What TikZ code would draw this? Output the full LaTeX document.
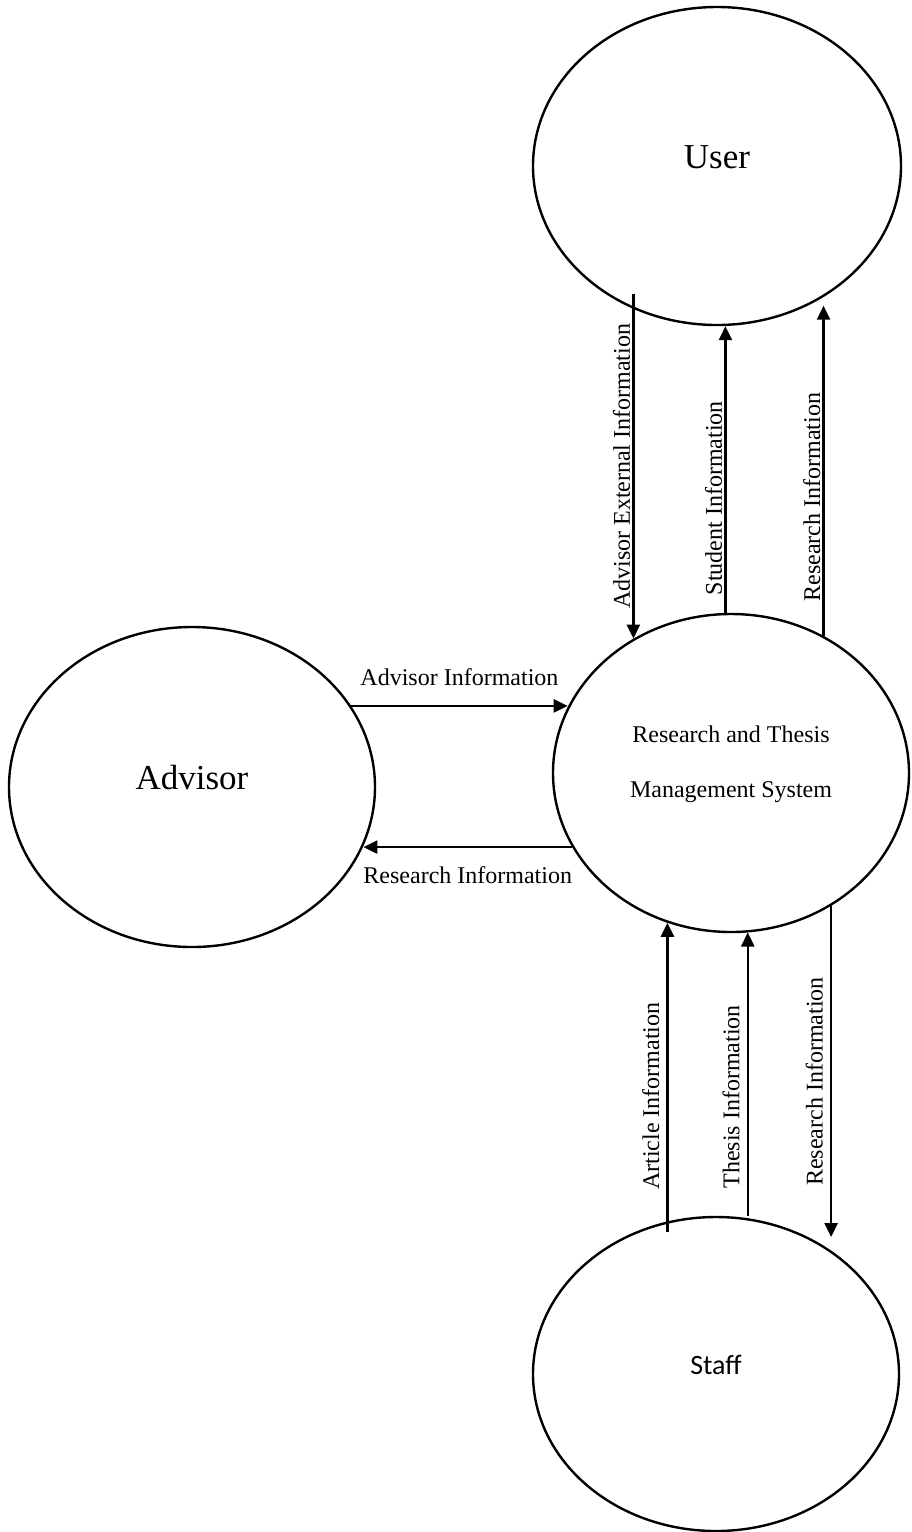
\documentclass[tikz,border=0pt]{standalone}
\usepackage{fontspec}
\setmainfont{Liberation Serif}
\newfontfamily\staffFont{Carlito}
\usetikzlibrary{arrows.meta,shapes.geometric,calc}

\begin{document}
\begin{tikzpicture}[
  x=0.5pt, y=-0.5pt,
  ent/.style={draw, ellipse, line width=1.2pt, inner sep=0pt},
  etxt/.style={yshift=4.5pt, font=\fontsize{17.5}{21}\selectfont},
  flow/.style={-{Triangle[length=7pt,width=6.5pt]}, line width=1.2pt},
  lab/.style={font=\fontsize{12}{14}\selectfont, inner sep=1pt},
  vlab/.style={lab, rotate=90, anchor=south},
  blab/.style={vlab, inner ysep=3.5pt}
]
\useasboundingbox (0,0) rectangle (911,1532);

\node[ent, minimum width=184pt, minimum height=159pt, label={[etxt]center:User}] (user) at (717,166) {};
\node[ent, minimum width=183pt, minimum height=160pt, label={[etxt]center:Advisor}] (adv) at (192,787) {};
\node[ent, minimum width=178pt, minimum height=159pt,
  label={[etxt, align=center, font=\fontsize{12}{27.6}\selectfont]center:Research and Thesis\\Management System}] (sys) at (731,773) {};
\node[ent, minimum width=183pt, minimum height=157pt,
  label={[etxt, font=\staffFont\fontsize{14}{17}\selectfont]center:Staff}] (staff) at (716,1374) {};

% user <-> system
\draw[flow] (sys.126 |- user.229) -- node[vlab, pos=0.5]{Advisor External Information} (sys.126);
\draw[flow] (sys.92) -- node[vlab, pos=0.4]{Student Information} (sys.92 |- user.south);
\draw[flow] (sys.56) -- node[vlab, pos=0.42]{Research Information} (sys.56 |- user.-57);

% advisor <-> system
\draw[flow] (adv.27) -- node[lab, above=8.5pt]{Advisor Information} (adv.27 -| sys.158);
\draw[flow] (sys.205) -- node[lab, below=8pt]{Research Information} (sys.205 -| adv.-19);

% staff <-> system
\draw[flow] (sys.247 |- staff.120) -- node[blab, pos=0.44]{Article Information} (sys.247);
\draw[flow] (sys.-84 |- staff.north) -- node[blab, pos=0.42]{Thesis Information} (sys.-84);
\draw[flow] (sys.-53) -- node[blab, pos=0.53]{Research Information} (sys.-53 |- staff.56);
\end{tikzpicture}
\end{document}
